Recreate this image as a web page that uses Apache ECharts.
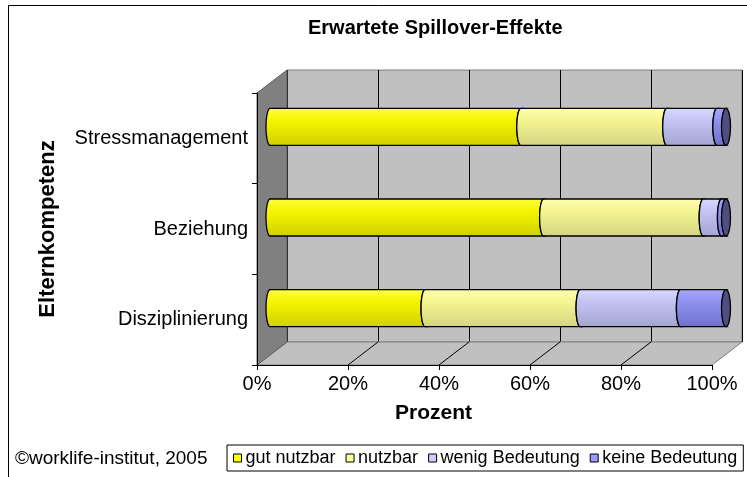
<!DOCTYPE html>
<html>
<head>
<meta charset="utf-8">
<script src="https://cdn.jsdelivr.net/npm/echarts@6/dist/echarts.min.js"></script>
<style>html,body{margin:0;padding:0;background:#fff}#c{width:747px;height:477px}</style>
</head>
<body>
<div id="c"></div>
<script>
// ---- data ----
const categories = ['Stressmanagement', 'Beziehung', 'Disziplinierung'];
const seriesNames = ['gut nutzbar', 'nutzbar', 'wenig Bedeutung', 'keine Bedeutung'];
const gutNutzbar = [55, 60, 34];
const nutzbar = [32, 35, 34];
const wenigBedeutung = [11, 4, 22];
const keineBedeutung = [2, 1, 10];
const xTicks = [0, 20, 40, 60, 80, 100];
const titleText = 'Erwartete Spillover-Effekte';
const xName = 'Prozent';
const yName = 'Elternkompetenz';
const sourceText = '\u00a9worklife-institut, 2005';

// ---- styles ----
const flat = ['#ffff00', '#ffff99', '#ccccff', '#9999ff'];
const grads = [
  ['#ffff40', '#f4f400', '#d0d000'],
  ['#ffffb0', '#f4f490', '#d4d484'],
  ['#d8d8ff', '#c4c4f4', '#a4a4d0'],
  ['#a8a8ff', '#9090f0', '#7070cc']
];
const capColor = '#4e4e80';

const W = 747, H = 477;
const front = {l: 257, r: 712, t: 93, b: 365};
const dx = 30, dy = 23;
const bar = {l: 270, r: 726, t: 81.5, b: 353.5};

const all = [gutNutzbar, nutzbar, wenigBedeutung, keineBedeutung];
function stacked(si) {
  return categories.map((c, ci) => {
    let s = 0;
    for (let k = 0; k < si; k++) s += all[k][ci];
    let lastNonZero = -1;
    for (let k = 0; k < all.length; k++) if (all[k][ci] > 0) lastNonZero = k;
    return [ci, s, s + all[si][ci], lastNonZero === si ? 1 : 0];
  });
}

function makeRender(si) {
  return function (params, api) {
    const ci = api.value(0);
    const p0 = api.coord([api.value(1), ci]);
    const p1 = api.coord([api.value(2), ci]);
    const isLast = api.value(3) === 1;
    const h = 37;
    const yc = p0[1];
    const rx = 4;
    const pts = [];
    const N = 16;
    for (let i = 0; i <= N; i++) {
      const t = -Math.PI / 2 + Math.PI * i / N;
      pts.push([p1[0] - rx * Math.cos(t), yc + (h / 2) * Math.sin(t)]);
    }
    for (let i = 0; i <= N; i++) {
      const t = Math.PI / 2 - Math.PI * i / N;
      pts.push([p0[0] - rx * Math.cos(t), yc + (h / 2) * Math.sin(t)]);
    }
    const g = grads[si];
    const children = [{
      type: 'polygon',
      shape: {points: pts},
      style: {
        fill: new echarts.graphic.LinearGradient(0, 0, 0, 1, [
          {offset: 0, color: g[0]}, {offset: 0.35, color: g[1]}, {offset: 1, color: g[2]}
        ]),
        stroke: '#000', lineWidth: 1.3
      }
    }];
    if (isLast) {
      children.push({
        type: 'ellipse',
        shape: {cx: p1[0], cy: yc, rx: rx + 0.5, ry: h / 2},
        style: {fill: capColor, stroke: '#000', lineWidth: 1.3}
      });
    }
    return {type: 'group', children: children};
  };
}

const barSeries = seriesNames.map((name, si) => ({
  name: name,
  type: 'custom',
  xAxisIndex: 2, yAxisIndex: 2,
  renderItem: makeRender(si),
  encode: {x: [1, 2], y: 0},
  itemStyle: {color: flat[si]},
  data: stacked(si),
  z: 10 + si,
  silent: true
}));

const frameSeries = {
  type: 'custom',
  xAxisIndex: 1, yAxisIndex: 1,
  silent: true,
  z: 3,
  data: xTicks.map(v => [v]),
  encode: {x: 0},
  renderItem: function (params, api) {
    const cs = params.coordSys;
    const x = api.coord([api.value(0), 0])[0];
    const yb = cs.y + cs.height;
    const children = [];
    if (params.dataIndex === 0) {
      children.push({
        type: 'polygon',
        shape: {points: [[cs.x, yb], [cs.x + dx, yb - dy], [cs.x + cs.width + dx, yb - dy], [cs.x + cs.width, yb]]},
        style: {fill: '#c0c0c0', stroke: '#808080', lineWidth: 1}
      });
      children.push({
        type: 'polygon',
        shape: {points: [[cs.x, cs.y], [cs.x + dx, cs.y - dy], [cs.x + dx, yb - dy], [cs.x, yb]]},
        style: {fill: '#808080', stroke: '#606060', lineWidth: 1}
      });
    }
    if (params.dataIndex > 0 && params.dataIndex < xTicks.length - 1) {
      children.push({
        type: 'line',
        shape: {x1: x, y1: yb, x2: x + dx, y2: yb - dy},
        style: {stroke: '#000', lineWidth: 1}
      });
    }
    return {type: 'group', children: children};
  }
};

const chart = echarts.init(document.getElementById('c'), null, {renderer: 'canvas'});
const fontFamily = 'Liberation Sans, Arial, sans-serif';
chart.setOption({
  animation: false,
  backgroundColor: '#fff',
  textStyle: {fontFamily: fontFamily, color: '#000'},
  title: [
    {text: titleText, left: 303, top: 13,
      textStyle: {fontSize: 20, fontWeight: 'bold', color: '#000', fontFamily: fontFamily}},
    {text: xName, left: 390, top: 398,
      textStyle: {fontSize: 21, fontWeight: 'bold', color: '#000', fontFamily: fontFamily}},
    {text: sourceText, left: 10, top: 444,
      textStyle: {fontSize: 19, fontWeight: 'normal', color: '#000', fontFamily: fontFamily}}
  ],
  legend: {
    left: 227, top: 445,
    itemWidth: 8, itemHeight: 8, itemGap: 10,
    icon: 'rect',
    backgroundColor: '#fff', borderColor: '#000', borderWidth: 1,
    padding: [4, 6, 4, 6],
    itemStyle: {borderColor: '#000', borderWidth: 1},
    textStyle: {fontSize: 18, color: '#000', fontFamily: fontFamily, padding: [0, 0, 0, -1]},
    data: seriesNames
  },
  grid: [
    {left: front.l + dx, right: W - front.r - dx, top: front.t - dy, bottom: H - front.b + dy,
      show: true, backgroundColor: '#c0c0c0', borderColor: '#808080', borderWidth: 1, z: 0},
    {left: front.l, right: W - front.r, top: front.t, bottom: H - front.b},
    {left: bar.l, right: W - bar.r, top: bar.t, bottom: H - bar.b}
  ],
  xAxis: [
    {gridIndex: 0, type: 'value', min: 0, max: 100, interval: 20,
      axisLine: {show: false}, axisTick: {show: false}, axisLabel: {show: false},
      splitLine: {show: true, lineStyle: {color: '#000', width: 1}}},
    {gridIndex: 1, type: 'value', min: 0, max: 100, interval: 20,
      axisLine: {show: true, onZero: false, lineStyle: {color: '#000', width: 1}},
      axisTick: {show: true, length: 5, lineStyle: {color: '#000'}},
      axisLabel: {formatter: '{value}%', fontSize: 20, color: '#000', margin: 9, fontFamily: fontFamily},
      splitLine: {show: false}, z: 5},
    {gridIndex: 2, type: 'value', min: 0, max: 100, show: false}
  ],
  yAxis: [
    {gridIndex: 0, type: 'category', data: categories, inverse: true, show: false},
    {gridIndex: 1, type: 'category', data: categories, inverse: true,
      axisLine: {show: true, lineStyle: {color: '#000', width: 1}},
      axisTick: {show: true, length: 5, lineStyle: {color: '#000'}},
      axisLabel: {fontSize: 20, color: '#000', margin: 9, fontFamily: fontFamily},
      name: yName, nameLocation: 'middle', nameGap: 198, nameRotate: 90,
      nameTextStyle: {fontSize: 22, fontWeight: 'bold', color: '#000', fontFamily: fontFamily}, z: 5},
    {gridIndex: 2, type: 'category', data: categories, inverse: true, show: false}
  ],
  graphic: [{
    type: 'rect', shape: {x: 8.5, y: 5.5, width: 800, height: 600},
    style: {fill: null, stroke: '#000', lineWidth: 1}, z: 100, silent: true
  }],
  series: [frameSeries].concat(barSeries)
});
</script>
</body>
</html>
